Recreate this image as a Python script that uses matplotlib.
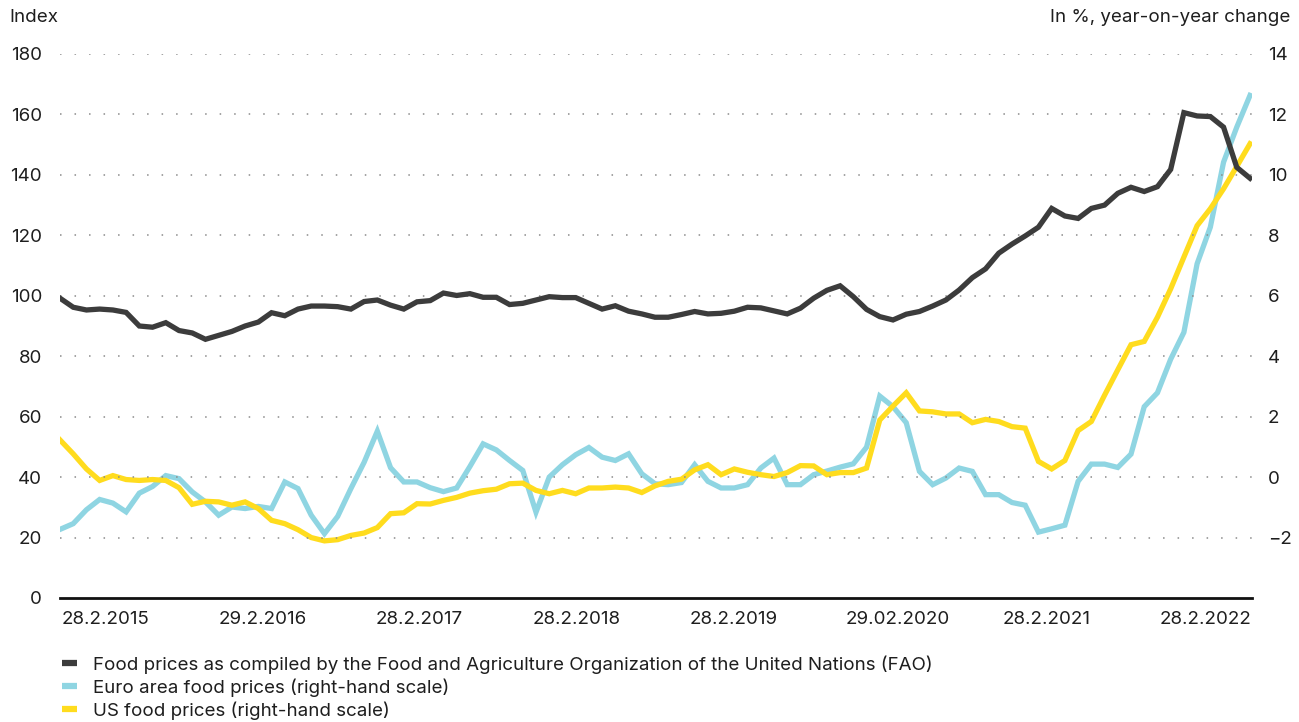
import matplotlib
matplotlib.use('Agg')
import matplotlib.pyplot as plt
import matplotlib.transforms as mtransforms
import numpy as np

#####################################
# data, monthly Feb 2015 - Aug 2022
fao = [99.2, 96.2, 95.3, 95.6, 95.3, 94.5, 90.0, 89.6, 91.1, 88.5, 87.7, 85.6, 86.9, 88.2, 90.0, 91.3,
       94.4, 93.4, 95.6, 96.6, 96.6, 96.4, 95.6, 98.1, 98.6, 96.9, 95.6, 98.0, 98.4, 100.9, 100.1,
       100.7, 99.5, 99.5, 97.1, 97.5, 98.6, 99.7, 99.4, 99.4, 97.5, 95.6, 96.7, 94.9, 94.0, 92.9,
       92.9, 93.8, 94.8, 94.0, 94.2, 94.9, 96.2, 96.0, 95.0, 94.0, 95.9, 99.2, 101.8, 103.3,
       99.7, 95.5, 93.1, 92.0, 93.9, 94.8, 96.6, 98.6, 101.9, 106.0, 108.9, 114.1, 117.1, 119.8,
       122.7, 128.9, 126.4, 125.6, 128.9, 130.0, 133.9, 135.9, 134.5, 136.1, 141.8, 160.6, 159.5,
       159.3, 155.8, 142.5, 138.9]

euro = [-1.73, -1.54, -1.08, -0.74, -0.86, -1.15, -0.53, -0.31, 0.05, -0.05, -0.49, -0.82, -1.26,
        -0.99, -1.04, -0.97, -1.04, -0.16, -0.38, -1.26, -1.87, -1.30, -0.38, 0.49, 1.52, 0.31,
        -0.16, -0.16, -0.35, -0.48, -0.36,
        0.35, 1.10, 0.90, 0.55, 0.22, -1.16, 0.0, 0.41, 0.74, 0.98, 0.66, 0.55, 0.77, 0.11, -0.22,
        -0.25, -0.18, 0.41, -0.14, -0.36, -0.36, -0.25, 0.30, 0.63, -0.25, -0.25, 0.08, 0.20, 0.33,
        0.44, 0.99, 2.68, 2.33, 1.80, 0.19, -0.25, -0.03, 0.30, 0.19, -0.58, -0.58, -0.84, -0.93,
        -1.82, -1.71, -1.59, -0.14, 0.43, 0.43, 0.32, 0.76, 2.33, 2.79, 3.9, 4.79, 7.06, 8.27,
        10.42, 11.58, 12.63]

us = [1.23, 0.77, 0.27, -0.11, 0.05, -0.08, -0.11, -0.08, -0.11, -0.35, -0.90, -0.80, -0.82, -0.93,
      -0.82, -1.04, -1.43, -1.54, -1.74, -2.0, -2.11, -2.07, -1.93, -1.85, -1.67, -1.21, -1.18,
      -0.88, -0.89, -0.77, -0.67,
      -0.53, -0.45, -0.40, -0.22, -0.20, -0.44, -0.55, -0.44, -0.55, -0.36, -0.36, -0.33, -0.36,
      -0.51, -0.29, -0.14, -0.07, 0.24, 0.41, 0.08, 0.27, 0.16, 0.08, 0.02, 0.15, 0.38, 0.37, 0.08,
      0.15,
      0.15, 0.30, 1.89, 2.35, 2.79, 2.19, 2.16, 2.09, 2.09, 1.80, 1.91, 1.84, 1.67, 1.62, 0.52,
      0.27, 0.55, 1.54, 1.84, 2.71, 3.55, 4.38, 4.49, 5.29, 6.23, 7.28, 8.32, 8.88, 9.54, 10.28,
      11.03]

tick_lab = ['28.2.2015', '29.2.2016', '28.2.2017', '28.2.2018', '28.2.2019',
            '29.02.2020', '28.2.2021', '28.2.2022']

labels = ['Food prices as compiled by the Food and Agriculture Organization of the United Nations (FAO)',
          'Euro area food prices (right-hand scale)',
          'US food prices (right-hand scale)']
#####################################

c_fao = '#3c3c3c'
c_euro = '#8fd5e2'
c_us = '#ffdc1e'
fnt = 'Inter'
fs = 13.5
txt_c = '#1e1e1e'

plt.rcParams['font.family'] = [fnt, 'DejaVu Sans']

W, H = 1299, 722
fig = plt.figure(figsize=(W/100, H/100), dpi=100)
x0, x1 = 60, 1252
ytop, ybot = 54, 598
ax = fig.add_axes([x0/W, 1-ybot/H, (x1-x0)/W, (ybot-ytop)/H])
ax2 = ax.twinx()

x = np.arange(len(fao))
ax2.plot(x, us, color=c_us, lw=3.8, solid_joinstyle='miter', zorder=3)
ax2.plot(x, euro, color=c_euro, lw=3.8, solid_joinstyle='miter', zorder=2)
ax.plot(x, fao, color=c_fao, lw=3.8, solid_joinstyle='miter', zorder=3)

# put fao line on top of twin axis
ax.set_zorder(ax2.get_zorder()+1)
ax.patch.set_visible(False)

ax.set_xlim(0, 90 + 2/13.22)
ax.set_ylim(0, 180)
ax2.set_ylim(-4, 14)

ax.set_yticks(range(0, 181, 20))
ax2.set_yticks(range(-2, 15, 2))
ax2.set_yticklabels([str(v).replace('-', '\u2212') for v in range(-2, 15, 2)])

# dotted grid
for v in range(20, 181, 20):
    ax.axhline(v, color='#8a8a8a', lw=1.1, ls=(0, (1, 8.5)), zorder=0)

for a in (ax, ax2):
    for s in a.spines.values():
        s.set_visible(False)
ax.spines['bottom'].set_visible(True)
ax.spines['bottom'].set_linewidth(2)
ax.spines['bottom'].set_color('#111111')

ax.tick_params(axis='y', length=0, pad=13, labelsize=fs, labelcolor=txt_c)
ax2.tick_params(axis='y', length=0, pad=11.5, labelsize=fs, labelcolor=txt_c)

# date labels are spaced a bit tighter than 12 months in the original
ax.set_xticks([k*11.86 for k in range(len(tick_lab))])
ax.set_xticklabels(tick_lab, ha='left')
ax.tick_params(axis='x', length=0, pad=9, labelsize=fs, labelcolor=txt_c)
shift = mtransforms.ScaledTranslation(2/100, 0, fig.dpi_scale_trans)
for t in ax.get_xticklabels():
    t.set_transform(t.get_transform() + shift)

fig.text(9/W, 1-18/H, 'Index', fontsize=fs, color=txt_c, va='center', ha='left')
fig.text(1290/W, 1-18/H, 'In %, year-on-year change', fontsize=fs, color=txt_c,
         va='center', ha='right')

# legend
h = [plt.Line2D([], [], color=c, lw=4.5, solid_capstyle='butt') for c in (c_fao, c_euro, c_us)]
fig.legend(h, labels, loc='upper left', bbox_to_anchor=(62/W, 1-655/H), frameon=False,
           fontsize=fs, handlelength=0.8, handletextpad=0.85, labelspacing=0.25,
           labelcolor=txt_c, borderaxespad=0, borderpad=0)

fig.savefig('out.png', dpi=100, facecolor='white')
